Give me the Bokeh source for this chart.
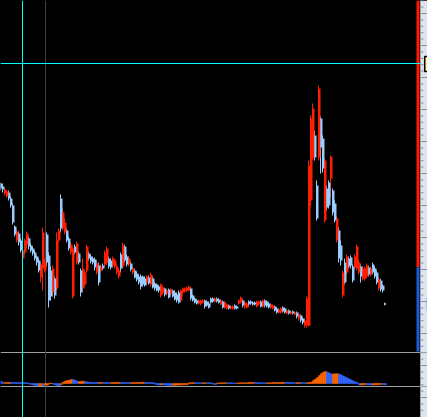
import numpy as np
from bokeh.plotting import figure
from bokeh.models import Range1d, ColumnDataSource, LinearAxis, FixedTicker
from bokeh.embed import file_html
from bokeh.resources import INLINE

# ---------------- data ----------------
opens = [217, 214, 207, 204, 208, 202, 195, 174, 160, 167,
         160, 142, 148, 156, 162, 155, 152, 148, 144, 140,
         123, 132, 130, 166, 145, 130, 108, 122, 112, 160,
         202, 172, 168, 170, 162, 148, 104, 154, 138, 147,
         130, 112, 116, 130, 147, 144, 142, 141, 128, 135,
         130, 135, 136, 138, 142, 140, 135, 134, 128, 124,
         146, 134, 154, 144, 136, 137, 128, 130, 127, 124,
         124, 124, 122, 118, 123, 116, 122, 117, 116, 114,
         105, 108, 112, 107, 111, 107, 110, 108, 106, 108,
         100, 108, 109, 110, 110, 112, 105, 102, 100, 97,
         97, 98, 100, 99, 97, 102, 102, 99, 102, 101,
         96, 99, 93, 92, 95, 92, 92, 95, 94, 97,
         98, 100, 94, 93, 99, 99, 98, 98, 94, 96,
         99, 94, 100, 99, 97, 93, 92, 94, 92, 88,
         88, 93, 92, 87, 90, 87, 89, 86, 88, 82,
         85, 82, 75, 75, 75, 200, 242, 265, 215, 243,
         282, 262, 180, 212, 218, 222, 210, 197, 160, 170,
         155, 105, 138, 128, 142, 143, 134, 133, 132, 128,
         134, 122, 122, 124, 133, 126, 136, 132, 128, 112,
         120, 115, 97]
closes = [212, 211, 211, 209, 202, 195, 178, 166, 169, 158,
          150, 150, 160, 167, 154, 150, 147, 142, 138, 130,
          136, 168, 138, 138, 100, 104, 132, 105, 160, 170,
          172, 188, 178, 160, 152, 156, 152, 148, 157, 138,
          108, 132, 128, 154, 142, 139, 138, 133, 137, 118,
          134, 132, 148, 152, 134, 133, 142, 140, 134, 130,
          132, 155, 140, 136, 142, 131, 132, 123, 121, 118,
          114, 116, 115, 124, 117, 126, 113, 112, 110, 110,
          116, 113, 106, 110, 103, 111, 104, 101, 100, 98,
          110, 112, 112, 113, 114, 102, 100, 98, 97, 100,
          100, 100, 94, 95, 93, 98, 99, 102, 99, 98,
          100, 93, 98, 96, 92, 94, 94, 92, 92, 100,
          103, 95, 98, 97, 96, 97, 96, 96, 99, 99,
          94, 100, 95, 94, 93, 96, 95, 90, 88, 91,
          92, 89, 88, 90, 87, 89, 87, 88, 84, 86,
          80, 78, 80, 102, 235, 282, 292, 243, 182, 312,
          253, 232, 240, 193, 195, 244, 188, 180, 182, 142,
          140, 128, 118, 144, 134, 135, 120, 144, 154, 138,
          124, 132, 132, 135, 126, 132, 128, 124, 118, 121,
          111, 110, 96]
highs = [218, 217, 212, 210, 210, 204, 197, 175, 171, 169,
         162, 152, 162, 169, 164, 157, 154, 150, 145, 142,
         138, 173, 142, 168, 148, 134, 135, 124, 168, 172,
         206, 192, 182, 172, 164, 158, 154, 156, 159, 149,
         132, 142, 130, 156, 149, 146, 144, 143, 140, 138,
         136, 137, 150, 154, 144, 142, 144, 142, 136, 132,
         148, 158, 156, 146, 144, 139, 134, 132, 129, 126,
         126, 125, 124, 125, 125, 128, 124, 118, 117, 115,
         117, 114, 113, 111, 112, 112, 111, 110, 108, 110,
         111, 113, 113, 114, 115, 113, 106, 103, 101, 101,
         101, 101, 101, 100, 99, 103, 103, 103, 103, 102,
         101, 100, 99, 97, 96, 95, 95, 96, 95, 101,
         104, 101, 99, 98, 100, 100, 99, 99, 100, 100,
         100, 101, 101, 100, 98, 97, 96, 95, 93, 92,
         93, 94, 93, 91, 91, 90, 90, 89, 89, 87,
         86, 83, 82, 104, 240, 285, 297, 270, 220, 315,
         284, 265, 242, 215, 220, 245, 212, 200, 184, 173,
         160, 130, 142, 146, 144, 145, 136, 146, 156, 140,
         136, 134, 134, 137, 135, 134, 138, 134, 130, 123,
         122, 116, 98]
lows = [210, 208, 205, 203, 200, 193, 176, 164, 158, 155,
        148, 140, 146, 152, 151, 148, 145, 140, 135, 128,
        118, 110, 128, 134, 93, 100, 104, 102, 110, 158,
        168, 170, 166, 158, 150, 146, 102, 146, 136, 136,
        104, 108, 114, 128, 140, 137, 136, 130, 126, 115,
        128, 130, 134, 136, 132, 131, 133, 132, 126, 122,
        128, 132, 138, 134, 134, 129, 126, 122, 119, 116,
        111, 114, 114, 116, 116, 114, 112, 110, 109, 108,
        103, 106, 104, 105, 102, 105, 103, 100, 98, 97,
        99, 106, 108, 109, 109, 100, 99, 97, 96, 96,
        95, 97, 92, 94, 92, 97, 98, 98, 98, 97,
        95, 92, 92, 91, 91, 91, 91, 91, 91, 96,
        97, 93, 92, 92, 94, 96, 95, 95, 93, 95,
        93, 93, 93, 93, 92, 92, 91, 89, 87, 87,
        87, 88, 87, 86, 86, 86, 86, 85, 82, 80,
        78, 76, 73, 73, 74, 195, 240, 240, 180, 240,
        227, 228, 178, 190, 192, 203, 185, 178, 158, 138,
        135, 103, 116, 126, 132, 132, 118, 132, 130, 126,
        118, 120, 120, 122, 124, 124, 126, 122, 116, 110,
        109, 108, 95]
oscillator = [2.0, 1.0, 1.05, 1.1, 1.15,
              1.1, 1.05, 1.0, 0.95, 0.9, 0.85, 0.8, 0.75, 0.7,
              -0.5, -1.0, -1.5, -2.0, -2.2, -2.0, -1.9, -2.1, -1.8, -1.6,
              -0.5, 0.5, -0.8, -1.2, -2.0, -2.2,
              -1.0, 1.5, 2.5, 3.0, 3.5, 4.0, 3.9, 3.2, 2.0, 2.1, 2.2, 2.3,
              1.8, 1.5, 1.3, 1.2, 1.1, 1.0, 0.95, 1.0, 1.05,
              1.0, 0.95, 0.9, 0.85, 0.9, 0.95, 1.0, 1.05, 1.1,
              1.05, 1.0, 0.95, 0.9, 0.85, 0.9, 0.95, 1.0, 1.05, 1.1, 1.15, 1.2,
              1.15, 1.1, 1.0, 0.9, 0.8, -0.8, -1.2, -1.5, -1.4,
              -1.5, -1.6, -1.7, -1.8, -1.9, -1.8, -1.7, -1.6, -1.5, -1.4, -1.3, -1.2, -1.1,
              0.8, 0.85, 0.9, 0.85, 0.8, 0.75, 0.7, 0.75, 0.8,
              0.75, 0.7, 0.65, -0.8, -1.0, 0.6, 0.65, 0.7, 0.75, 0.8,
              0.75, 0.7, 0.65, 0.6, 0.55, 0.6, 0.65, 0.7, 0.75, 0.8, 0.85, 0.9, 0.95, 1.0,
              0.95, 0.9, 0.85, 0.8, 0.75, 0.7,
              0.75, 0.8, 0.85, 0.9, 0.95, 1.0, 1.05, 1.1, 1.15,
              1.1, 1.05, 1.0, 0.95, 0.9, 0.85, 0.9, 0.95, 0.9, 0.85, 0.8,
              0.85, 1.0, 1.5, 3.0, 4.5, 6.0, 8.0, 10.0, 11.5, 12.0,
              11.5, 10.5, 9.5, 9.6, 9.7, 9.8,
              9.5, 8.5, 7.5, 6.5, 5.5, 4.5, 3.5, 2.5, 1.5, 0.8, -1.5,
              -1.4, -1.3, -1.2, -1.3, -1.4, -1.5, -1.4, -1.3, -1.2, -1.1, -1.0,
              -1.1, -1.2]
share_labels = ["buy", "sell"]
share_values = [0.76, 0.24]
price_major_ticks = [387 - 32 * k for k in range(0, 13)]
price_minor_ticks = [round(387 - 6.4 * k, 1) for k in range(-2, 63)]
cursor_bar = 10.5
marker_bar = 22.0
cursor_price = 337

# ---------------- layout (2 px per bar, 1 px per price unit) ----------------
X0, XPLOT, XEND = -0.5, 209.5, 213.0
YLO, YHI = -17, 400

n = len(closes)
idx = list(range(n))
UP, DOWN = "#ff1e00", "#99ccff"
cndl_color = [UP if c > o else DOWN for o, c in zip(opens, closes)]
src = ColumnDataSource(dict(
    x=idx, xw=[i - 0.5 for i in idx], h=highs, l=lows,
    top=[max(o, c) for o, c in zip(opens, closes)],
    bot=[min(o, c) for o, c in zip(opens, closes)],
    color=cndl_color))

osc_color = ["#3366ff"] + ["#ff6600" if oscillator[i] > oscillator[i - 1] else "#3366ff"
                           for i in range(1, len(oscillator))]
osrc = ColumnDataSource(dict(x=list(range(len(oscillator))), v=oscillator, color=osc_color))

p = figure(width=427, height=417, output_backend="svg", toolbar_location=None,
           x_range=Range1d(X0, XEND), y_range=Range1d(YLO, YHI),
           x_axis_location=None, y_axis_location=None,
           min_border=0, background_fill_color="#000000", border_fill_color="#dbe4ef",
           outline_line_color=None)
p.grid.visible = False
p.extra_y_ranges = {"osc": Range1d(-34, 383), "share": Range1d(1 - 417 / 351, 1)}

# right price strip (the axis labels lie beyond the visible strip)
p.quad(left=[XPLOT], right=[XEND], bottom=[YLO], top=[YHI], fill_color="#dbe4ef", line_color=None)
p.segment(x0=[XPLOT] * len(price_minor_ticks), y0=price_minor_ticks,
          x1=[XPLOT + 1.5] * len(price_minor_ticks), y1=price_minor_ticks,
          line_color="#8e9298", line_width=1)
ax = LinearAxis(ticker=FixedTicker(ticks=price_major_ticks, minor_ticks=[]),
                major_label_text_font_size="0px", major_label_standoff=0,
                major_tick_in=7, major_tick_out=0, minor_tick_in=0, minor_tick_out=0,
                axis_line_color=None, major_tick_line_color="#8e9298")
p.add_layout(ax, "right")

# separators and marker line
p.segment(x0=[X0, X0], y0=[48, 14], x1=[XEND, XEND], y1=[48, 14],
          line_color="#a0a0a0", line_width=1)
p.segment(x0=[XPLOT], y0=[YLO], x1=[XPLOT], y1=[YHI], line_color="#a0a4aa", line_width=1)
p.segment(x0=[marker_bar], y0=[YLO], x1=[marker_bar], y1=[YHI], line_color="#404040", line_width=1)

# candles
p.segment(x0="xw", y0="h", x1="xw", y1="l", color="color", line_width=1, source=src)
p.vbar(x="x", top="top", bottom="bot", width=1.0, fill_color="color",
       line_color=None, source=src)

# oscillator
p.vbar(x="x", top="v", bottom=0, width=1.0, fill_color="color", line_color="color",
       line_width=0.5, source=osrc, y_range_name="osc")

# buy / sell share bar
cum = np.cumsum(share_values[::-1])
p.vbar(x=[208.25, 208.25], bottom=[cum[0], 0], top=[cum[1], cum[0]], width=1.5,
       fill_color=["#ff1a00", "#1e5bd6"], line_color=None, y_range_name="share")

# crosshair
p.segment(x0=[cursor_bar], y0=[YLO], x1=[cursor_bar], y1=[YHI], line_color="#00ffff", line_width=1)
p.segment(x0=[X0], y0=[cursor_price], x1=[XPLOT - 0.25], y1=[cursor_price],
          line_color="#00ffff", line_width=1)

# price tags on the strip
p.quad(left=[211.6], right=[214], top=[cursor_price + 7], bottom=[cursor_price - 8],
       fill_color="#ffee9c", line_color="#000000", line_width=1.5)
p.quad(left=[212.1], right=[214], top=[closes[-1] + 7], bottom=[closes[-1] - 6],
       fill_color="#a8d0ff", line_color=None)

html = file_html(p, INLINE, title="chart")
html = html.replace("<head>", "<head><style>html,body{margin:0;padding:0;background:#000;overflow:hidden;}</style>", 1)
open("out.html", "w").write(html)
